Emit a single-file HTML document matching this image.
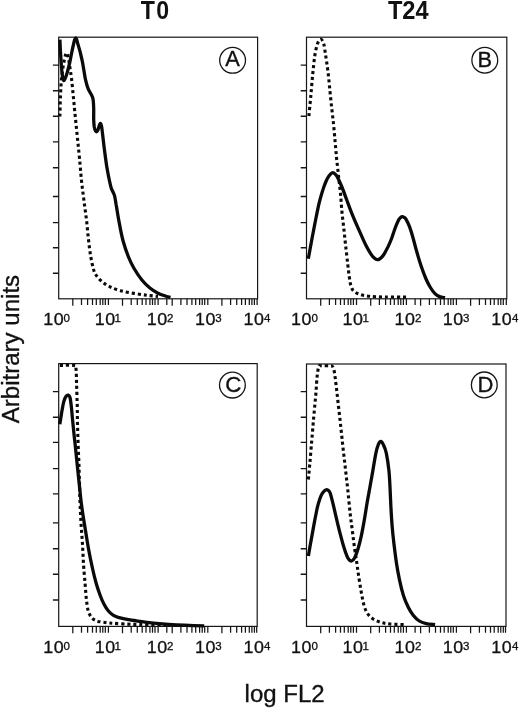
<!DOCTYPE html>
<html><head><meta charset="utf-8"><title>Figure</title>
<style>
html,body{margin:0;padding:0;background:#fff;}
body{width:520px;height:709px;overflow:hidden;}
svg{display:block;filter:blur(0.35px);}
.tb{stroke:#111;stroke-width:0.3px;}
.tc{stroke:#111;stroke-width:0.35px;}
.t{font-family:"Liberation Sans",Arial,Helvetica,sans-serif;fill:#111;}
</style></head><body>
<svg width="520" height="709" viewBox="0 0 520 709">
<rect width="520" height="709" fill="#fff"/>
<g>
<rect x="58.7" y="37.2" width="198.9" height="261.6" fill="none" stroke="#161616" stroke-width="1.2"/>
<path d="M52.9,65.1H58.7M52.9,90.8H58.7M52.9,116.2H58.7M52.9,141.9H58.7M52.9,167.8H58.7M52.9,196.5H58.7M52.9,222.6H58.7M52.9,247.8H58.7M52.9,273.3H58.7" stroke="#161616" stroke-width="1.4" fill="none"/>
<path d="M72.8,298.8V305.7M81.5,298.8V305.1M87.6,298.8V305.1M92.5,298.8V305.1M96.3,298.8V305.1M100.2,298.8V305.1M102.8,298.8V305.1M105.3,298.8V305.1M108.4,298.8V305.1M122.5,298.8V305.7M131.2,298.8V305.1M137.3,298.8V305.1M142.2,298.8V305.1M146.0,298.8V305.1M149.9,298.8V305.1M152.5,298.8V305.1M155.0,298.8V305.1M158.1,298.8V305.1M172.2,298.8V305.7M180.9,298.8V305.1M187.0,298.8V305.1M191.9,298.8V305.1M195.7,298.8V305.1M199.6,298.8V305.1M202.2,298.8V305.1M204.7,298.8V305.1M207.8,298.8V305.1M221.9,298.8V305.7M230.6,298.8V305.1M236.7,298.8V305.1M241.6,298.8V305.1M245.4,298.8V305.1M249.3,298.8V305.1M251.9,298.8V305.1M254.4,298.8V305.1M257.1,298.8V305.1M166.8,298.8V305.1" stroke="#161616" stroke-width="1.25" fill="none"/>
<path d="M59.9,116.5 C60.0,112.9 60.2,101.4 60.5,95.0 C60.8,88.6 61.1,82.9 61.6,78.0 C62.1,73.1 62.7,69.2 63.3,65.5 C63.9,61.8 64.7,58.1 65.2,56.0 C65.8,53.9 66.1,53.0 66.6,53.0 C67.1,53.0 67.5,53.9 68.0,56.0 C68.5,58.1 69.0,61.6 69.6,65.5 C70.2,69.4 70.9,73.7 71.6,79.3 C72.3,84.9 72.9,92.5 73.6,99.1 C74.2,105.7 74.8,112.2 75.5,118.8 C76.2,125.4 76.8,131.9 77.5,138.5 C78.2,145.1 78.8,151.4 79.5,158.3 C80.2,165.2 80.7,172.8 81.4,179.7 C82.1,186.6 83.0,192.9 83.8,199.5 C84.6,206.1 85.6,212.6 86.4,219.2 C87.2,225.8 87.7,232.9 88.4,238.9 C89.1,244.9 89.7,250.1 90.5,255.0 C91.3,259.9 92.4,265.2 93.3,268.5 C94.2,271.8 94.6,272.9 96.0,275.0 C97.4,277.1 99.4,279.4 101.7,281.4 C104.0,283.3 106.6,285.1 109.7,286.7 C112.8,288.2 116.4,289.6 120.4,290.7 C124.4,291.8 129.3,292.6 133.8,293.4 C138.3,294.2 143.2,294.8 147.2,295.3 C151.2,295.8 156.2,296.2 158.0,296.4" stroke="#0a0a0a" stroke-width="3.1" stroke-dasharray="3.1 2.9" fill="none"/>
<path d="M59.9,39.6 C60.0,41.7 60.2,47.6 60.5,52.0 C60.8,56.4 61.1,62.0 61.4,66.0 C61.7,70.0 62.1,73.7 62.4,76.0 C62.7,78.3 63.0,79.1 63.3,79.8 C63.6,80.5 63.8,80.8 64.2,80.4 C64.6,80.0 65.0,79.0 65.6,77.5 C66.1,76.0 66.8,74.1 67.5,71.5 C68.2,68.9 69.2,65.0 69.9,61.8 C70.6,58.6 71.2,55.2 71.8,52.2 C72.4,49.2 73.1,46.1 73.6,44.0 C74.1,41.9 74.3,40.6 74.7,39.6 C75.1,38.6 75.4,38.0 75.7,38.0 C76.0,38.0 76.3,38.5 76.7,39.6 C77.1,40.7 77.4,42.4 78.0,44.5 C78.6,46.6 79.5,49.3 80.2,52.2 C80.9,55.1 81.8,58.7 82.4,61.8 C83.0,64.9 83.5,68.0 84.0,71.0 C84.5,74.0 84.8,76.6 85.5,79.6 C86.2,82.6 87.3,86.7 88.3,89.2 C89.3,91.7 90.6,93.2 91.4,94.8 C92.2,96.4 92.6,96.7 93.0,99.0 C93.4,101.3 93.6,105.0 93.7,108.5 C93.8,112.0 93.6,117.0 93.7,120.0 C93.8,123.0 94.0,124.8 94.2,126.5 C94.5,128.2 94.8,129.4 95.2,130.3 C95.6,131.2 96.1,131.8 96.5,131.8 C96.9,131.8 97.3,131.4 97.8,130.3 C98.3,129.2 98.8,126.7 99.3,125.5 C99.8,124.3 100.2,123.2 100.6,123.4 C101.0,123.6 101.2,124.4 101.6,126.5 C102.0,128.6 102.3,131.9 102.8,136.0 C103.3,140.1 103.9,145.7 104.6,151.0 C105.3,156.3 106.2,163.2 107.0,168.0 C107.8,172.8 108.6,176.7 109.3,180.0 C110.0,183.3 110.6,186.0 111.2,188.0 C111.8,190.0 112.4,190.7 113.0,192.0 C113.6,193.3 114.1,193.8 114.6,196.0 C115.1,198.2 115.5,200.7 116.2,205.0 C117.0,209.3 117.9,216.0 119.1,222.0 C120.2,228.0 121.5,235.2 123.1,241.0 C124.7,246.8 126.7,252.5 128.5,257.0 C130.3,261.5 131.6,264.2 133.8,268.0 C136.0,271.8 139.2,276.7 141.9,280.0 C144.6,283.3 147.2,285.8 149.9,288.0 C152.6,290.2 155.3,291.8 158.0,293.2 C160.7,294.6 163.9,295.5 166.0,296.2 C168.1,296.9 169.8,297.1 170.5,297.3" stroke="#0a0a0a" stroke-width="3.3" stroke-linejoin="round" fill="none"/>
<circle cx="232.6" cy="60.3" r="12.9" fill="none" stroke="#161616" stroke-width="1.3"/>
<text x="232.6" y="66.0" font-size="21.8" text-anchor="middle" class="t tc">A</text>
<text transform="translate(43.30,324.85) scale(1.090,1)" font-size="16.4" letter-spacing="0.5" class="t tb">10</text>
<text x="63.60" y="321.65" font-size="11.5" class="t tb">0</text>
<text transform="translate(94.80,324.85) scale(1.090,1)" font-size="16.4" letter-spacing="0.5" class="t tb">10</text>
<text x="114.60" y="321.65" font-size="11.5" class="t tb">1</text>
<text transform="translate(146.70,324.85) scale(1.090,1)" font-size="16.4" letter-spacing="0.5" class="t tb">10</text>
<text x="167.10" y="321.65" font-size="11.5" class="t tb">2</text>
<text transform="translate(194.90,324.85) scale(1.090,1)" font-size="16.4" letter-spacing="0.5" class="t tb">10</text>
<text x="215.20" y="321.65" font-size="11.5" class="t tb">3</text>
<text transform="translate(243.50,324.85) scale(1.090,1)" font-size="16.4" letter-spacing="0.5" class="t tb">10</text>
<text x="264.10" y="321.65" font-size="11.5" class="t tb">4</text>
</g>
<g>
<rect x="306.5" y="37.2" width="200.3" height="261.6" fill="none" stroke="#161616" stroke-width="1.2"/>
<path d="M300.7,65.1H306.5M300.7,90.8H306.5M300.7,116.2H306.5M300.7,141.9H306.5M300.7,167.8H306.5M300.7,196.5H306.5M300.7,222.6H306.5M300.7,247.8H306.5M300.7,273.3H306.5" stroke="#161616" stroke-width="1.4" fill="none"/>
<path d="M320.7,298.8V305.7M329.4,298.8V305.1M335.6,298.8V305.1M340.5,298.8V305.1M344.3,298.8V305.1M348.2,298.8V305.1M350.8,298.8V305.1M353.4,298.8V305.1M356.5,298.8V305.1M370.7,298.8V305.7M379.4,298.8V305.1M385.6,298.8V305.1M390.5,298.8V305.1M394.3,298.8V305.1M398.2,298.8V305.1M400.8,298.8V305.1M403.4,298.8V305.1M406.4,298.8V305.1M420.6,298.8V305.7M429.4,298.8V305.1M435.5,298.8V305.1M440.5,298.8V305.1M444.2,298.8V305.1M448.2,298.8V305.1M450.8,298.8V305.1M453.3,298.8V305.1M456.4,298.8V305.1M470.6,298.8V305.7M479.4,298.8V305.1M485.5,298.8V305.1M490.5,298.8V305.1M494.2,298.8V305.1M498.2,298.8V305.1M500.8,298.8V305.1M503.3,298.8V305.1M506.3,298.8V305.1M415.1,298.8V305.1" stroke="#161616" stroke-width="1.25" fill="none"/>
<path d="M308.9,116.0 C309.2,112.5 310.2,102.3 310.9,95.2 C311.5,88.1 312.1,80.1 312.8,73.5 C313.5,66.9 314.0,60.7 314.8,55.7 C315.6,50.7 316.6,46.2 317.6,43.5 C318.6,40.8 319.8,39.2 320.8,39.3 C321.8,39.3 322.9,41.1 323.7,43.8 C324.5,46.5 325.0,51.4 325.7,55.7 C326.4,60.0 327.0,64.2 327.7,69.5 C328.4,74.8 329.0,81.0 329.6,87.3 C330.2,93.6 330.9,100.8 331.6,107.1 C332.3,113.4 333.0,119.0 333.6,124.9 C334.2,130.8 334.7,137.0 335.2,142.6 C335.7,148.2 336.1,153.0 336.6,158.5 C337.2,164.0 337.9,170.0 338.5,175.8 C339.1,181.7 339.9,187.7 340.5,193.6 C341.1,199.5 341.3,205.5 341.9,211.4 C342.5,217.3 343.2,223.3 343.9,229.2 C344.5,235.1 345.1,241.1 345.8,247.0 C346.5,252.9 347.2,259.7 347.8,264.7 C348.4,269.7 348.8,273.6 349.3,277.0 C349.8,280.4 350.1,282.8 350.7,285.0 C351.3,287.2 351.9,289.0 353.1,290.5 C354.4,292.0 356.4,293.0 358.2,293.8 C360.0,294.6 361.8,295.1 363.8,295.5 C365.8,295.9 367.9,296.1 370.0,296.3 C372.1,296.5 373.7,296.6 376.2,296.7 C378.7,296.8 379.8,296.9 385.0,297.0 C390.2,297.1 403.9,297.1 407.7,297.1" stroke="#0a0a0a" stroke-width="3.1" stroke-dasharray="3.1 2.9" fill="none"/>
<path d="M308.3,258.8 C308.8,256.3 310.1,248.9 311.0,244.0 C311.9,239.1 312.9,233.9 313.8,229.2 C314.7,224.5 315.5,220.3 316.4,216.0 C317.3,211.7 318.1,207.3 319.0,203.6 C319.9,199.9 320.7,196.9 321.6,194.0 C322.5,191.1 323.4,188.2 324.2,186.0 C325.0,183.8 325.7,182.1 326.4,180.5 C327.1,178.9 327.8,177.7 328.5,176.6 C329.2,175.5 330.1,174.5 330.8,173.8 C331.5,173.2 332.1,172.7 332.8,172.7 C333.5,172.7 334.2,173.1 334.9,173.8 C335.6,174.5 336.1,174.8 337.2,176.8 C338.3,178.8 339.9,182.2 341.5,186.0 C343.1,189.8 345.0,195.2 346.7,199.8 C348.4,204.4 349.9,208.6 351.9,213.6 C353.9,218.6 356.5,224.5 358.8,229.6 C361.1,234.7 363.4,240.2 365.5,244.4 C367.6,248.6 369.8,252.3 371.3,254.6 C372.8,256.9 373.5,257.4 374.5,258.2 C375.5,259.0 376.4,259.5 377.3,259.6 C378.2,259.7 378.9,259.4 379.6,259.0 C380.4,258.6 381.0,258.1 381.8,257.2 C382.6,256.3 383.3,255.4 384.4,253.6 C385.4,251.8 386.9,249.1 388.1,246.6 C389.3,244.1 390.6,241.1 391.6,238.5 C392.6,235.9 393.4,233.1 394.2,230.8 C395.0,228.5 395.7,226.5 396.5,224.6 C397.3,222.7 398.1,220.8 398.8,219.6 C399.5,218.4 400.0,217.9 400.6,217.4 C401.2,216.9 401.7,216.7 402.3,216.7 C402.9,216.7 403.4,216.9 404.0,217.3 C404.6,217.7 404.9,217.3 405.8,218.9 C406.7,220.5 408.4,223.6 409.6,226.9 C410.8,230.2 412.1,234.5 413.2,238.5 C414.3,242.5 415.2,246.2 416.5,250.8 C417.8,255.4 419.6,261.6 421.2,266.2 C422.8,270.8 424.3,274.9 425.8,278.5 C427.3,282.1 428.9,285.0 430.4,287.5 C431.9,290.0 433.5,292.1 435.0,293.6 C436.5,295.1 437.9,295.9 439.6,296.6 C441.3,297.3 444.1,297.5 445.0,297.7" stroke="#0a0a0a" stroke-width="3.3" stroke-linejoin="round" fill="none"/>
<circle cx="484.8" cy="60.2" r="12.9" fill="none" stroke="#161616" stroke-width="1.3"/>
<text x="484.8" y="66.6" font-size="21.8" text-anchor="middle" class="t tc">B</text>
<text transform="translate(291.10,324.85) scale(1.090,1)" font-size="16.4" letter-spacing="0.5" class="t tb">10</text>
<text x="311.40" y="321.65" font-size="11.5" class="t tb">0</text>
<text transform="translate(342.60,324.85) scale(1.090,1)" font-size="16.4" letter-spacing="0.5" class="t tb">10</text>
<text x="362.40" y="321.65" font-size="11.5" class="t tb">1</text>
<text transform="translate(394.50,324.85) scale(1.090,1)" font-size="16.4" letter-spacing="0.5" class="t tb">10</text>
<text x="414.90" y="321.65" font-size="11.5" class="t tb">2</text>
<text transform="translate(442.70,324.85) scale(1.090,1)" font-size="16.4" letter-spacing="0.5" class="t tb">10</text>
<text x="463.00" y="321.65" font-size="11.5" class="t tb">3</text>
<text transform="translate(491.30,324.85) scale(1.090,1)" font-size="16.4" letter-spacing="0.5" class="t tb">10</text>
<text x="511.90" y="321.65" font-size="11.5" class="t tb">4</text>
</g>
<g>
<rect x="58.7" y="363.6" width="198.5" height="262.8" fill="none" stroke="#161616" stroke-width="1.2"/>
<path d="M52.9,391.6H58.7M52.9,417.3H58.7M52.9,442.4H58.7M52.9,468.6H58.7M52.9,493.9H58.7M52.9,522.9H58.7M52.9,548.8H58.7M52.9,574.3H58.7M52.9,600.0H58.7" stroke="#161616" stroke-width="1.4" fill="none"/>
<path d="M72.8,626.4V633.3M81.5,626.4V632.7M87.6,626.4V632.7M92.5,626.4V632.7M96.3,626.4V632.7M100.2,626.4V632.7M102.8,626.4V632.7M105.3,626.4V632.7M108.4,626.4V632.7M122.5,626.4V633.3M131.2,626.4V632.7M137.3,626.4V632.7M142.2,626.4V632.7M146.0,626.4V632.7M149.9,626.4V632.7M152.5,626.4V632.7M155.0,626.4V632.7M158.1,626.4V632.7M172.2,626.4V633.3M180.9,626.4V632.7M187.0,626.4V632.7M191.9,626.4V632.7M195.7,626.4V632.7M199.6,626.4V632.7M202.2,626.4V632.7M204.7,626.4V632.7M207.8,626.4V632.7M221.9,626.4V633.3M230.6,626.4V632.7M236.7,626.4V632.7M241.6,626.4V632.7M245.4,626.4V632.7M249.3,626.4V632.7M251.9,626.4V632.7M254.4,626.4V632.7M256.7,626.4V632.7M166.8,626.4V632.7" stroke="#161616" stroke-width="1.25" fill="none"/>
<path d="M59.9,365.5 C62.3,365.5 71.5,364.9 74.2,365.5 C76.9,366.1 75.6,365.6 76.0,368.8 C76.4,372.0 76.4,378.7 76.6,384.6 C76.8,390.5 77.0,397.8 77.2,404.4 C77.4,411.0 77.3,417.6 77.5,424.2 C77.7,430.8 77.9,437.3 78.1,443.9 C78.3,450.5 78.7,457.1 78.9,463.7 C79.1,470.3 79.3,476.6 79.5,483.5 C79.7,490.4 79.8,498.0 80.1,504.8 C80.4,511.6 80.7,517.9 81.1,524.5 C81.5,531.1 82.1,537.7 82.5,544.3 C82.9,550.9 83.1,557.4 83.5,564.0 C83.9,570.6 84.6,577.9 85.1,583.8 C85.6,589.7 85.9,595.0 86.4,599.6 C87.0,604.2 87.4,608.4 88.4,611.5 C89.4,614.6 90.8,616.8 92.4,618.4 C94.1,620.0 95.5,620.6 98.3,621.4 C101.1,622.1 105.1,622.5 109.2,622.9 C113.3,623.3 117.9,623.6 123.0,623.9 C128.1,624.2 132.2,624.4 140.0,624.6 C147.8,624.8 164.7,625.1 169.6,625.2" stroke="#0a0a0a" stroke-width="3.1" stroke-dasharray="3.1 2.9" fill="none"/>
<path d="M59.8,424.2 C60.1,422.2 61.1,416.0 61.7,412.3 C62.4,408.6 63.0,404.5 63.7,401.8 C64.4,399.1 65.3,397.4 66.1,396.3 C66.9,395.2 67.6,394.9 68.3,395.1 C69.0,395.3 69.5,395.6 70.0,397.5 C70.5,399.4 70.9,402.9 71.3,406.4 C71.7,409.8 72.0,413.6 72.4,418.2 C72.9,422.8 73.5,429.2 74.0,434.1 C74.5,439.1 75.0,442.6 75.5,447.9 C76.0,453.2 76.7,459.6 77.3,465.7 C77.9,471.8 78.6,478.0 79.3,484.5 C80.0,491.0 80.6,498.1 81.5,504.8 C82.4,511.5 83.3,517.3 84.5,524.5 C85.7,531.7 87.1,541.0 88.4,548.2 C89.7,555.5 91.1,562.1 92.4,568.0 C93.7,573.9 95.0,579.2 96.3,583.8 C97.6,588.4 99.0,592.2 100.3,595.7 C101.6,599.2 102.9,602.1 104.2,604.6 C105.5,607.1 106.7,609.0 108.2,610.8 C109.7,612.6 111.3,614.1 113.1,615.2 C114.9,616.3 116.4,616.9 119.0,617.6 C121.6,618.3 125.1,618.9 128.9,619.6 C132.7,620.3 136.9,620.9 141.9,621.6 C146.9,622.3 153.4,623.0 159.2,623.6 C165.0,624.2 170.7,624.7 176.5,625.0 C182.3,625.3 189.2,625.5 193.8,625.6 C198.4,625.7 202.5,625.8 204.2,625.8" stroke="#0a0a0a" stroke-width="3.3" stroke-linejoin="round" fill="none"/>
<circle cx="232.4" cy="385.1" r="12.9" fill="none" stroke="#161616" stroke-width="1.3"/>
<text x="233.3" y="391.6" font-size="22.3" text-anchor="middle" class="t tc">C</text>
<text transform="translate(43.30,652.85) scale(1.090,1)" font-size="16.4" letter-spacing="0.5" class="t tb">10</text>
<text x="63.60" y="649.65" font-size="11.5" class="t tb">0</text>
<text transform="translate(94.80,652.85) scale(1.090,1)" font-size="16.4" letter-spacing="0.5" class="t tb">10</text>
<text x="114.60" y="649.65" font-size="11.5" class="t tb">1</text>
<text transform="translate(146.70,652.85) scale(1.090,1)" font-size="16.4" letter-spacing="0.5" class="t tb">10</text>
<text x="167.10" y="649.65" font-size="11.5" class="t tb">2</text>
<text transform="translate(194.90,652.85) scale(1.090,1)" font-size="16.4" letter-spacing="0.5" class="t tb">10</text>
<text x="215.20" y="649.65" font-size="11.5" class="t tb">3</text>
<text transform="translate(243.50,652.85) scale(1.090,1)" font-size="16.4" letter-spacing="0.5" class="t tb">10</text>
<text x="264.10" y="649.65" font-size="11.5" class="t tb">4</text>
</g>
<g>
<rect x="306.5" y="364.0" width="199.5" height="262.4" fill="none" stroke="#161616" stroke-width="1.2"/>
<path d="M300.7,391.6H306.5M300.7,417.3H306.5M300.7,442.4H306.5M300.7,468.6H306.5M300.7,493.9H306.5M300.7,522.9H306.5M300.7,548.8H306.5M300.7,574.3H306.5M300.7,600.0H306.5" stroke="#161616" stroke-width="1.4" fill="none"/>
<path d="M320.7,626.4V633.3M329.4,626.4V632.7M335.6,626.4V632.7M340.5,626.4V632.7M344.3,626.4V632.7M348.2,626.4V632.7M350.8,626.4V632.7M353.4,626.4V632.7M356.5,626.4V632.7M370.7,626.4V633.3M379.4,626.4V632.7M385.6,626.4V632.7M390.5,626.4V632.7M394.3,626.4V632.7M398.2,626.4V632.7M400.8,626.4V632.7M403.4,626.4V632.7M406.4,626.4V632.7M420.6,626.4V633.3M429.4,626.4V632.7M435.5,626.4V632.7M440.5,626.4V632.7M444.2,626.4V632.7M448.2,626.4V632.7M450.8,626.4V632.7M453.3,626.4V632.7M456.4,626.4V632.7M470.6,626.4V633.3M479.4,626.4V632.7M485.5,626.4V632.7M490.5,626.4V632.7M494.2,626.4V632.7M498.2,626.4V632.7M500.8,626.4V632.7M503.3,626.4V632.7M505.5,626.4V632.7M415.1,626.4V632.7" stroke="#161616" stroke-width="1.25" fill="none"/>
<path d="M308.4,479.5 C308.6,476.9 309.2,470.3 309.8,463.7 C310.4,457.1 311.1,447.9 311.8,440.0 C312.5,432.1 313.1,423.9 313.8,416.3 C314.5,408.7 315.2,401.1 315.8,394.5 C316.4,387.9 316.6,381.3 317.1,376.7 C317.6,372.1 318.1,368.4 318.8,366.6 C319.5,364.8 319.6,365.9 321.5,365.8 C323.4,365.7 328.1,365.7 330.0,365.8 C331.9,365.9 331.9,365.4 332.6,366.6 C333.4,367.8 333.9,369.1 334.5,372.8 C335.1,376.5 335.8,383.0 336.5,388.6 C337.2,394.2 337.8,400.5 338.5,406.4 C339.2,412.3 339.9,418.3 340.5,424.2 C341.1,430.1 341.8,436.1 342.4,442.0 C343.0,447.9 343.7,453.8 344.4,459.7 C345.1,465.6 345.7,471.5 346.4,477.5 C347.1,483.5 347.8,489.6 348.4,495.8 C349.0,502.0 349.6,508.8 350.3,514.6 C351.0,520.4 351.6,525.2 352.3,530.5 C353.0,535.8 353.6,541.0 354.3,546.3 C355.0,551.6 356.0,557.2 356.7,562.1 C357.4,567.0 357.9,571.0 358.6,575.9 C359.4,580.8 360.3,586.9 361.2,591.7 C362.1,596.5 362.8,601.1 363.8,604.6 C364.8,608.1 365.7,610.5 367.1,612.8 C368.5,615.1 370.0,616.7 372.1,618.2 C374.2,619.8 377.0,621.1 380.0,622.1 C383.0,623.1 385.6,623.6 389.9,624.0 C394.1,624.4 402.9,624.5 405.5,624.6" stroke="#0a0a0a" stroke-width="3.1" stroke-dasharray="3.1 2.9" fill="none"/>
<path d="M308.4,556.0 C308.8,553.6 310.0,546.3 310.9,541.5 C311.8,536.7 312.7,531.3 313.5,527.1 C314.3,522.9 314.8,519.9 315.5,516.5 C316.2,513.1 316.8,509.6 317.5,506.9 C318.2,504.1 318.8,502.0 319.5,500.0 C320.2,498.0 320.6,496.4 321.5,494.8 C322.4,493.2 323.7,491.6 324.6,490.7 C325.5,489.8 326.1,489.6 326.8,489.6 C327.5,489.6 328.2,490.2 328.8,490.9 C329.4,491.6 329.6,491.2 330.4,493.8 C331.2,496.4 332.4,501.2 333.6,506.2 C334.8,511.2 336.4,518.4 337.7,523.8 C339.0,529.2 340.3,534.3 341.4,538.4 C342.5,542.5 343.2,545.2 344.2,548.2 C345.1,551.2 346.3,554.4 347.1,556.3 C347.9,558.2 348.5,559.0 349.2,559.8 C349.9,560.6 350.6,561.0 351.3,561.0 C352.0,561.0 352.7,560.5 353.3,559.8 C353.9,559.1 354.4,558.6 355.2,556.7 C356.0,554.8 357.2,551.6 358.2,548.2 C359.2,544.8 360.2,541.0 361.2,536.4 C362.2,531.8 363.2,526.2 364.2,520.6 C365.2,515.0 366.2,508.1 367.1,502.8 C368.0,497.5 368.6,494.4 369.6,489.0 C370.6,483.6 371.8,476.4 372.9,470.4 C373.9,464.4 375.0,457.4 375.9,453.1 C376.8,448.8 377.5,446.5 378.3,444.6 C379.1,442.7 380.0,441.5 380.8,441.5 C381.6,441.5 382.4,442.7 383.3,444.6 C384.2,446.5 385.4,448.8 386.3,453.1 C387.2,457.4 388.3,464.8 388.9,470.4 C389.5,476.0 389.7,481.3 390.0,487.0 C390.3,492.7 390.5,498.6 390.8,504.8 C391.1,511.1 391.5,517.9 392.0,524.5 C392.5,531.1 393.2,537.7 394.0,544.3 C394.8,550.9 395.7,558.1 396.6,564.0 C397.5,569.9 398.4,574.6 399.5,579.9 C400.6,585.2 402.0,591.1 403.5,595.7 C405.0,600.3 406.8,604.2 408.4,607.5 C410.0,610.8 411.6,613.1 413.4,615.4 C415.2,617.6 417.2,619.6 419.3,621.0 C421.4,622.4 423.6,623.0 426.2,623.6 C428.8,624.2 433.6,624.4 435.1,624.6" stroke="#0a0a0a" stroke-width="3.3" stroke-linejoin="round" fill="none"/>
<circle cx="484.3" cy="384.9" r="12.9" fill="none" stroke="#161616" stroke-width="1.3"/>
<text x="485.5" y="391.5" font-size="22.0" text-anchor="middle" class="t tc">D</text>
<text transform="translate(291.10,652.85) scale(1.090,1)" font-size="16.4" letter-spacing="0.5" class="t tb">10</text>
<text x="311.40" y="649.65" font-size="11.5" class="t tb">0</text>
<text transform="translate(342.60,652.85) scale(1.090,1)" font-size="16.4" letter-spacing="0.5" class="t tb">10</text>
<text x="362.40" y="649.65" font-size="11.5" class="t tb">1</text>
<text transform="translate(394.50,652.85) scale(1.090,1)" font-size="16.4" letter-spacing="0.5" class="t tb">10</text>
<text x="414.90" y="649.65" font-size="11.5" class="t tb">2</text>
<text transform="translate(442.70,652.85) scale(1.090,1)" font-size="16.4" letter-spacing="0.5" class="t tb">10</text>
<text x="463.00" y="649.65" font-size="11.5" class="t tb">3</text>
<text transform="translate(491.30,652.85) scale(1.090,1)" font-size="16.4" letter-spacing="0.5" class="t tb">10</text>
<text x="511.90" y="649.65" font-size="11.5" class="t tb">4</text>
</g>
<text transform="translate(155.6,18.7) scale(0.91,1)" font-size="25.4" font-weight="bold" text-anchor="middle" letter-spacing="1.5" class="t">T0</text>
<text transform="translate(408.3,18.7) scale(0.945,1)" font-size="25" font-weight="bold" text-anchor="middle" class="t">T24</text>
<text x="244.6" y="702" font-size="24.4" textLength="80.0" lengthAdjust="spacingAndGlyphs" class="t tc">log FL2</text>
<text transform="translate(19,423.2) rotate(-90)" font-size="24.6" textLength="148.3" lengthAdjust="spacingAndGlyphs" class="t tc">Arbitrary units</text>
</svg>
</body></html>
